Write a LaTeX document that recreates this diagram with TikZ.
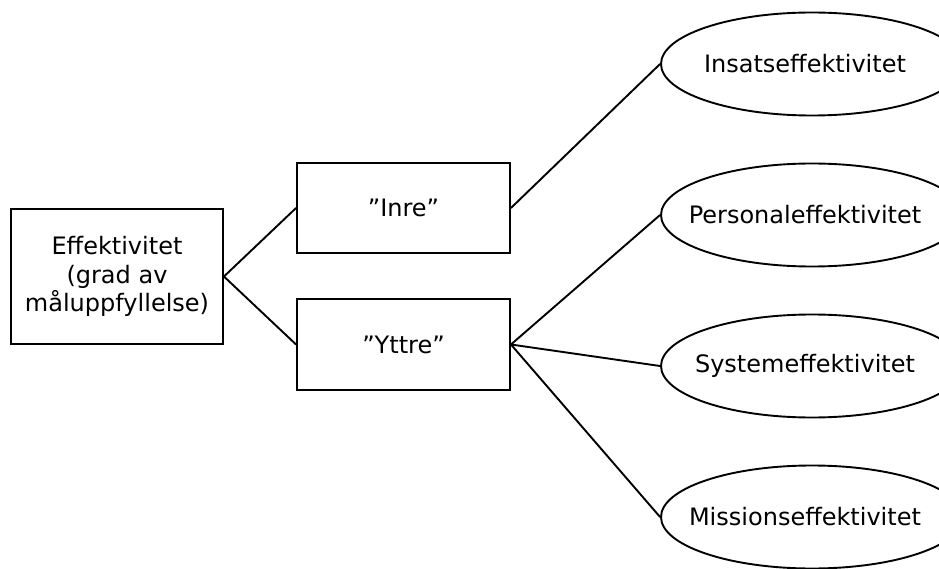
\documentclass[tikz,border=0pt]{standalone}
\usepackage{fontspec}
\setmainfont{DejaVu Sans}
\usetikzlibrary{shapes.geometric}
\newcommand{\elltext}[1]{\makebox[0pt]{#1\hspace{14pt}}}
\begin{document}
\begin{tikzpicture}[x=1pt,y=-1pt,
  every node/.style={font=\fontsize{24}{28.5}\selectfont},
  boxnode/.style={draw,line width=1.9pt,rectangle,inner sep=0pt,align=center},
  ellnode/.style={draw,line width=1.9pt,ellipse,inner sep=0pt,minimum width=302pt,minimum height=103pt},
  conn/.style={line width=1.9pt}]
\clip (0,0) rectangle (939,569);
\node[boxnode,minimum width=212pt,minimum height=135pt] (eff) at (117,276.5) {Effektivitet\\(grad av\\måluppfyllelse)};
\node[boxnode,minimum width=213pt,minimum height=90pt] (inre) at (403.5,208) {”Inre”};
\node[boxnode,minimum width=213pt,minimum height=91pt] (yttre) at (403.5,344.5) {”Yttre”};
\node[ellnode] (e1) at (812,64) {\elltext{Insatseffektivitet}};
\node[ellnode] (e2) at (812,215) {\elltext{Personaleffektivitet}};
\node[ellnode] (e3) at (812,366) {\elltext{Systemeffektivitet}};
\node[ellnode] (e4) at (812,517) {\elltext{Missionseffektivitet}};
\draw[conn] (eff.east) -- (inre.west);
\draw[conn] (eff.east) -- (yttre.west);
\draw[conn] (inre.east) -- (e1.west);
\draw[conn] (yttre.east) -- (e2.west);
\draw[conn] (yttre.east) -- (e3.west);
\draw[conn] (yttre.east) -- (e4.west);
\end{tikzpicture}
\end{document}
